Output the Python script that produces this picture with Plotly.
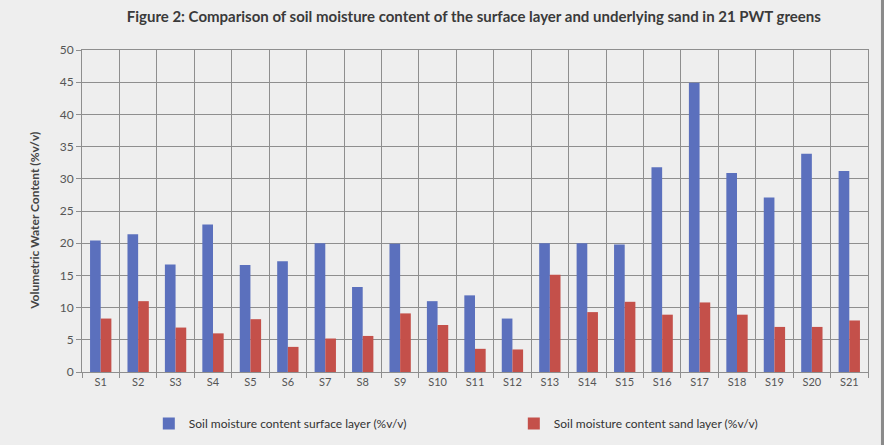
import plotly.graph_objects as go

sites = [f"S{i}" for i in range(1, 22)]
surface_layer = [20.4, 21.4, 16.7, 22.9, 16.6, 17.2, 20.0, 13.2, 19.9, 11.0, 11.9,
                 8.3, 20.0, 20.0, 19.8, 31.8, 44.9, 30.9, 27.1, 33.9, 31.2]
sand_layer = [8.3, 11.0, 6.9, 6.0, 8.2, 3.9, 5.2, 5.6, 9.1, 7.3, 3.6,
              3.5, 15.1, 9.3, 10.9, 8.9, 10.8, 8.9, 7.0, 7.0, 8.0]

BLUE = "#5b70bd"
RED = "#c4504a"
GRID = "#8e8e8e"
BG = "#eeeeee"
FONT = "Lato"

fig = go.Figure()
fig.add_trace(go.Bar(x=sites, y=surface_layer, name="Soil moisture content surface layer (%v/v)",
                     marker=dict(color=BLUE, line=dict(width=0))))
fig.add_trace(go.Bar(x=sites, y=sand_layer, name="Soil moisture content sand layer (%v/v)",
                     marker=dict(color=RED, line=dict(width=0))))

fig.update_layout(
    width=884, height=445,
    margin=dict(l=82, r=16, t=50, b=73, autoexpand=False),
    paper_bgcolor=BG, plot_bgcolor=BG,
    barmode="group", bargap=0.43, bargroupgap=0,
    font=dict(family=FONT, color="#555555", size=11),
    title=dict(text="<b>Figure 2: Comparison of soil moisture content of the surface layer and underlying sand in 21 PWT greens</b>",
               x=0.536, xanchor="center", y=0.962, yanchor="middle",
               font=dict(family=FONT, size=15, color="#3a3a3a")),
    legend=dict(orientation="h", x=0.085, xanchor="left", y=-0.115, yanchor="top",
                entrywidth=320, entrywidthmode="pixels",
                font=dict(family=FONT, size=12, color="#333333"),
                bgcolor="rgba(0,0,0,0)", itemwidth=30),
    showlegend=True,
)

fig.update_xaxes(
    type="category", tickson="boundaries", ticks="outside", ticklen=5, tickcolor=GRID,
    showgrid=True, gridcolor=GRID, gridwidth=1,
    showline=True, linecolor=GRID, linewidth=1, mirror=True,
    tickfont=dict(family=FONT, size=11, color="#555555"),
)
fig.update_yaxes(
    range=[0, 50], dtick=5, ticks="outside", ticklen=5, tickcolor=GRID,
    showgrid=True, gridcolor=GRID, gridwidth=1, zeroline=False,
    showline=True, linecolor=GRID, linewidth=1, mirror=True,
    tickfont=dict(family=FONT, size=12, color="#555555"),
)

# y-axis title, placed slightly below the plot's vertical centre
fig.add_annotation(text="<b>Volumetric Water Content (%v/v)</b>", textangle=-90,
                   xref="paper", yref="paper", x=-0.06, y=0.469,
                   xanchor="center", yanchor="middle", showarrow=False,
                   font=dict(family=FONT, size=12, color="#444444"))

# darker page edge on the right
fig.add_shape(type="rect", xref="paper", yref="paper", x0=1.0165, x1=1.03, y0=-0.3, y1=1.2,
              fillcolor="#8a8a8a", line=dict(width=0), layer="above")

fig.write_html("out.html")
